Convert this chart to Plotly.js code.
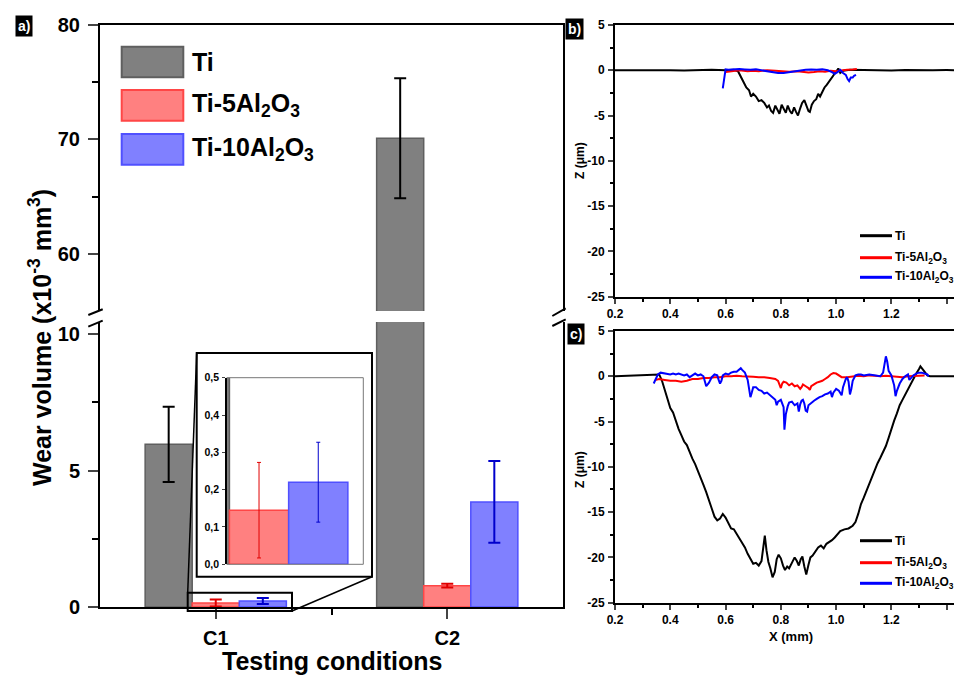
<!DOCTYPE html>
<html><head><meta charset="utf-8">
<script src="https://cdn.plot.ly/plotly-3.0.1.min.js"></script>
<style>html,body{margin:0;padding:0;background:#fff;overflow:hidden}</style>
</head><body><div id="chart" style="width:954px;height:675px"></div>
<script>
// ---------- data: panel a (wear volume, x10^-3 mm^3) ----------
const categories = ['C1', 'C2'];
const seriesNames = ['Ti', 'Ti-5Al<sub>2</sub>O<sub>3</sub>', 'Ti-10Al<sub>2</sub>O<sub>3</sub>'];
const tiWear = [5.96, 70.1];
const tiErr = [1.38, 5.25];
const al5Wear = [0.145, 0.78];
const al5Err = [0.128, 0.07];
const al10Wear = [0.22, 3.85];
const al10Err = [0.107, 1.5];
const insetTickVals = [0, 0.1, 0.2, 0.3, 0.4, 0.5];
const insetTickText = ['0,0', '0,1', '0,2', '0,3', '0,4', '0,5'];
const zTickVals = [5, 0, -5, -10, -15, -20, -25];
const zTickText = ['5', '0', '-5', '-10', '-15', '-20', '-25'];

// ---------- data: panel b (profiles, condition C1) ----------
const bTiX = [0.20,0.25,0.30,0.35,0.40,0.45,0.50,0.55,0.60,0.63,0.645,0.655,0.665,0.675,0.685,0.692,0.70,0.71,0.72,0.73,0.74,0.75,0.757,0.765,0.772,0.78,0.787,0.795,0.803,0.81,0.818,0.825,0.833,0.84,0.848,0.855,0.862,0.87,0.877,0.885,0.893,0.90,0.905,0.912,0.92,0.928,0.935,0.942,0.95,0.958,0.966,0.975,0.985,0.995,1.003,1.008,1.015,1.025,1.05,1.10,1.15,1.20,1.25,1.30,1.35,1.40,1.45,1.50];
const bTiZ = [0,0.02,-0.03,0.03,0,-0.02,0.03,0.05,0,0.05,-0.1,-0.8,-1.3,-1.9,-2.2,-2.9,-2.6,-2.9,-3.4,-3.3,-3.6,-4.1,-3.9,-4.5,-4.7,-3.9,-4.3,-4.8,-3.8,-4.3,-4.7,-3.9,-4.5,-4.8,-4.1,-4.6,-5.0,-4.2,-3.6,-3.3,-3.9,-4.5,-4.6,-3.8,-3.4,-3.2,-2.6,-2.9,-2.4,-1.9,-1.6,-1.2,-0.7,-0.3,0.05,0.2,-0.3,-0.05,0.05,0,0.03,-0.02,0.02,-0.03,0,0.02,0,0];
const bAl5X = [0.60,0.62,0.65,0.68,0.70,0.72,0.75,0.78,0.80,0.83,0.86,0.88,0.90,0.92,0.94,0.96,0.98,1.00,1.02,1.04,1.06,1.075];
const bAl5Z = [-0.2,-0.1,0,-0.1,-0.05,-0.1,0,-0.05,-0.1,-0.15,-0.1,-0.2,-0.25,-0.2,-0.1,-0.15,-0.05,-0.1,0,0.05,0.1,0.15];
const bAl10X = [0.59,0.593,0.597,0.60,0.61,0.63,0.65,0.67,0.69,0.71,0.73,0.75,0.77,0.79,0.81,0.83,0.85,0.87,0.89,0.91,0.93,0.95,0.97,0.985,0.995,1.005,1.015,1.025,1.035,1.042,1.047,1.053,1.06,1.065,1.072];
const bAl10Z = [-2.0,-1.2,-0.3,0.1,0.05,0.1,0.15,0.1,0.05,0.1,0,-0.1,-0.25,-0.3,-0.3,-0.2,-0.1,0,0.05,0.1,0.05,0.1,0,-0.2,-0.4,-0.2,0.05,-0.3,-0.5,-1.0,-1.2,-0.8,-0.8,-0.6,-0.5];

// ---------- data: panel c (profiles, condition C2) ----------
const cTiX = [0.20,0.25,0.30,0.34,0.36,0.37,0.38,0.39,0.40,0.41,0.42,0.43,0.44,0.45,0.46,0.47,0.48,0.49,0.50,0.51,0.52,0.53,0.54,0.55,0.56,0.57,0.58,0.59,0.60,0.61,0.62,0.63,0.64,0.65,0.66,0.67,0.68,0.69,0.70,0.71,0.72,0.73,0.735,0.742,0.748,0.755,0.762,0.77,0.778,0.785,0.792,0.80,0.808,0.815,0.823,0.83,0.84,0.85,0.858,0.865,0.872,0.878,0.885,0.892,0.90,0.907,0.915,0.925,0.935,0.945,0.955,0.965,0.975,0.985,0.995,1.005,1.015,1.03,1.045,1.06,1.07,1.08,1.09,1.10,1.11,1.12,1.13,1.14,1.15,1.16,1.17,1.18,1.19,1.20,1.21,1.22,1.23,1.24,1.25,1.26,1.27,1.28,1.29,1.30,1.305,1.31,1.32,1.33,1.34,1.40,1.45,1.50];
const cTiZ = [0,0.05,0.1,0.1,0.2,-0.5,-1.6,-2.7,-3.5,-4.0,-5.0,-5.8,-6.5,-7.2,-7.6,-8.4,-9.1,-9.7,-10.4,-11.2,-12.0,-12.8,-13.6,-14.6,-15.5,-15.9,-15.7,-15.2,-15.6,-16.2,-16.8,-16.9,-17.4,-17.8,-18.3,-18.9,-19.6,-20.2,-20.7,-20.6,-20.9,-20.4,-19.0,-17.6,-19.2,-20.5,-21.2,-22.2,-21.6,-20.2,-19.7,-20.1,-20.9,-21.4,-21.0,-21.2,-20.6,-20.0,-20.4,-20.9,-20.2,-19.9,-21.0,-21.9,-20.8,-20.0,-19.8,-19.3,-18.9,-18.7,-19.0,-18.5,-18.3,-18.1,-17.8,-17.4,-17.1,-16.9,-16.8,-16.5,-16.1,-15.2,-14.1,-13.4,-12.6,-11.9,-11.2,-10.3,-9.6,-9.0,-8.4,-7.7,-6.8,-5.8,-4.9,-4.1,-3.2,-2.6,-2.0,-1.5,-0.9,-0.3,0.3,0.8,1.1,0.9,0.5,0.1,0,0,0,0];
const cAl5X = [0.345,0.36,0.38,0.40,0.42,0.44,0.46,0.48,0.50,0.52,0.54,0.56,0.58,0.60,0.62,0.64,0.66,0.68,0.70,0.72,0.74,0.76,0.78,0.79,0.80,0.805,0.81,0.82,0.83,0.84,0.85,0.86,0.87,0.875,0.88,0.89,0.90,0.905,0.91,0.92,0.93,0.94,0.95,0.96,0.97,0.98,0.99,1.00,1.01,1.02,1.04,1.06,1.08,1.10,1.12,1.14,1.16,1.18,1.20,1.22,1.24,1.26,1.28,1.30,1.32];
const cAl5Z = [-0.4,-0.3,-0.4,-0.5,-0.5,-0.6,-0.5,-0.3,-0.3,-0.2,-0.2,-0.1,-0.1,0,0,0.05,0,0,-0.05,-0.1,-0.1,-0.2,-0.3,-0.5,-1.3,-0.8,-0.6,-0.7,-1.0,-0.8,-1.1,-1.0,-1.4,-1.2,-0.9,-1.1,-1.3,-1.5,-1.1,-0.9,-0.7,-0.6,-0.5,-0.3,-0.1,0.2,0.35,0.3,0.1,-0.1,-0.1,0,0.05,0,0.1,0.05,0,0.05,0,-0.05,-0.1,0,0.05,0.1,0.1];
const cAl10X = [0.34,0.345,0.355,0.365,0.375,0.39,0.40,0.41,0.42,0.43,0.44,0.45,0.46,0.47,0.48,0.49,0.50,0.51,0.52,0.525,0.53,0.54,0.55,0.56,0.57,0.575,0.58,0.585,0.59,0.60,0.61,0.62,0.63,0.64,0.65,0.655,0.66,0.67,0.68,0.685,0.69,0.695,0.70,0.71,0.72,0.73,0.74,0.75,0.76,0.77,0.78,0.785,0.79,0.80,0.805,0.81,0.813,0.818,0.825,0.83,0.84,0.85,0.86,0.865,0.87,0.875,0.88,0.885,0.89,0.895,0.90,0.91,0.92,0.93,0.94,0.95,0.96,0.97,0.98,0.985,0.99,1.00,1.01,1.02,1.025,1.035,1.04,1.045,1.05,1.055,1.06,1.07,1.08,1.09,1.10,1.12,1.14,1.16,1.17,1.175,1.18,1.185,1.19,1.20,1.205,1.21,1.215,1.22,1.23,1.24,1.25,1.26,1.265,1.27,1.28,1.29,1.30,1.31,1.32,1.33,1.335];
const cAl10Z = [-0.8,-0.4,0.2,0.4,0.35,0.3,0.2,0.3,0.2,0.3,0.2,0.1,0.2,-0.1,0.1,0.3,0.1,0.2,0,-0.5,-1.1,-0.7,-0.1,0.2,0.1,-0.4,-0.8,-0.5,0.1,0.3,0.2,0.4,0.5,0.5,0.8,0.9,0.7,0.4,-0.4,-1.2,-2.3,-1.8,-1.2,-1.2,-1.5,-1.6,-1.9,-1.8,-2.1,-2.3,-2.6,-3.2,-2.8,-2.6,-3.1,-3.4,-5.9,-4.2,-3.3,-2.9,-2.8,-3.2,-3.0,-3.9,-3.1,-2.7,-2.6,-3.0,-3.8,-3.9,-3.2,-2.9,-2.7,-2.5,-2.3,-2.2,-2.0,-1.9,-1.7,-2.3,-1.8,-1.4,-1.6,-2.1,-1.2,-0.3,-0.1,-0.6,-2.0,-1.4,-0.5,0.1,0.2,0.2,0.1,0.2,0.1,0,0.4,1.2,2.2,1.6,0.6,0.1,-0.4,-1.0,-2.2,-1.6,-0.8,-0.3,0,0.2,-0.4,-0.2,0.1,0.3,0.4,0.4,0.3,0.2,0];

// ---------- styling ----------
const FONT = 'Liberation Sans, Arial, sans-serif';
const W = 954, H = 675;
const px = v => v / W;            // pixel -> paper x
const py = v => 1 - v / H;        // pixel -> paper y
const fills = ['rgb(128,128,128)', 'rgb(255,128,128)', 'rgb(128,128,255)'];
const edges = ['rgb(95,95,95)', 'rgb(255,70,70)', 'rgb(80,80,255)'];
const errCols = ['#000000', '#e00000', '#0000cc'];
const lineCols = ['#000000', '#ff0000', '#0000ff'];
const xpos = categories.map((c, i) => i + 1);

const barSets = [[tiWear, tiErr], [al5Wear, al5Err], [al10Wear, al10Err]];
const traces = [];
[['x', 'y', 2, 6], ['x2', 'y2', 2, 6], ['x3', 'y3', 1, 2]].forEach(([xa, ya, th, cw]) => {
  barSets.forEach(([vals, errs], i) => {
    traces.push({
      type: 'bar', x: xpos, y: vals, xaxis: xa, yaxis: ya, name: seriesNames[i], showlegend: false,
      marker: {color: fills[i], line: {color: edges[i], width: 1.5}},
      error_y: {type: 'data', array: errs, visible: true, color: errCols[i], thickness: th, width: cw},
      hoverinfo: 'skip'
    });
  });
});
const prof = [
  ['x4', 'y4', [[bTiX, bTiZ], [bAl5X, bAl5Z], [bAl10X, bAl10Z]]],
  ['x5', 'y5', [[cTiX, cTiZ], [cAl5X, cAl5Z], [cAl10X, cAl10Z]]]
];
prof.forEach(([xa, ya, sets]) => {
  sets.forEach(([xs, zs], i) => {
    traces.push({type: 'scatter', mode: 'lines', x: xs, y: zs, xaxis: xa, yaxis: ya,
      name: seriesNames[i], showlegend: false, line: {color: lineCols[i], width: 2}, hoverinfo: 'skip'});
  });
});

const boldTick = s => ({family: FONT, size: s, color: '#000', weight: 'bold'});
const mainXDom = [px(100), px(563)];
const profXDom = [px(615), 1];

const layout = {
  width: W, height: H, autosize: false,
  margin: {l: 0, r: 0, t: 0, b: 0},
  paper_bgcolor: '#fff', plot_bgcolor: 'rgba(0,0,0,0)',
  barmode: 'group', bargap: 0.39, bargroupgap: 0,
  font: {family: FONT, color: '#000'},
  xaxis: {domain: mainXDom, anchor: 'y', range: [0.5, 2.5], tickvals: xpos, ticktext: categories,
    ticks: 'outside', ticklen: 10, tickwidth: 2, showline: true, linewidth: 2, linecolor: '#000',
    showgrid: false, zeroline: false, tickfont: boldTick(20), ticklabelstandoff: 2,
    minor: {tickvals: [1.5], ticks: 'outside', ticklen: 6, tickwidth: 2, tickcolor: '#000'}},
  yaxis: {domain: [py(607), py(322)], anchor: 'x', range: [0, 10.44], tick0: 0, dtick: 5,
    ticks: 'outside', ticklen: 10, tickwidth: 2, showline: true, linewidth: 2, linecolor: '#000', mirror: true,
    showgrid: false, zeroline: false, tickfont: boldTick(20), ticklabelstandoff: 4,
    minor: {dtick: 2.5, tick0: 0, ticks: 'outside', ticklen: 6, tickwidth: 2, tickcolor: '#000'}},
  xaxis2: {domain: mainXDom, anchor: 'y2', range: [0.5, 2.5], side: 'top', showticklabels: false,
    ticks: '', showline: true, linewidth: 2, linecolor: '#000', showgrid: false, zeroline: false},
  yaxis2: {domain: [py(311), py(25)], anchor: 'x2', range: [55, 80], tickvals: [60, 70, 80],
    ticks: 'outside', ticklen: 10, tickwidth: 2, showline: true, linewidth: 2, linecolor: '#000', mirror: true,
    showgrid: false, zeroline: false, tickfont: boldTick(20), ticklabelstandoff: 4,
    minor: {tickvals: [65, 75], ticks: 'outside', ticklen: 6, tickwidth: 2, tickcolor: '#000'}},
  xaxis3: {domain: [px(226.7), px(363.3)], anchor: 'y3', range: [0.889, 1.358], showticklabels: false,
    ticks: '', showline: false, showgrid: false, zeroline: false},
  yaxis3: {domain: [py(564.3), py(377.7)], anchor: 'x3', range: [0, 0.5], tickvals: insetTickVals, ticktext: insetTickText,
    ticks: 'outside', ticklen: 3, tickwidth: 1, showline: true, linewidth: 1.5, linecolor: '#000',
    showgrid: false, zeroline: false, tickfont: boldTick(10.5), ticklabelstandoff: 1},
  xaxis4: {domain: profXDom, anchor: 'y4', range: [0.2, 1.4265], tick0: 0.2, dtick: 0.2, tickformat: '.1f',
    ticks: 'outside', ticklen: 5, tickwidth: 2, showline: true, linewidth: 2, linecolor: '#000', mirror: true,
    showgrid: false, zeroline: false, tickfont: boldTick(12), ticklabelstandoff: 0,
    minor: {dtick: 0.1, tick0: 0.2, ticks: 'outside', ticklen: 3, tickwidth: 2, tickcolor: '#000'}},
  yaxis4: {domain: [py(296.7), py(25)], anchor: 'x4', range: [-25, 5], tickvals: zTickVals, ticktext: zTickText,
    ticks: 'outside', ticklen: 5, tickwidth: 2, showline: true, linewidth: 2, linecolor: '#000',
    showgrid: false, zeroline: false, tickfont: boldTick(12), ticklabelstandoff: 1,
    minor: {dtick: 2.5, tick0: 0, ticks: 'outside', ticklen: 3, tickwidth: 2, tickcolor: '#000'}},
  xaxis5: {domain: profXDom, anchor: 'y5', range: [0.2, 1.4265], tick0: 0.2, dtick: 0.2, tickformat: '.1f',
    ticks: 'outside', ticklen: 5, tickwidth: 2, showline: true, linewidth: 2, linecolor: '#000', mirror: true,
    showgrid: false, zeroline: false, tickfont: boldTick(12), ticklabelstandoff: 0,
    minor: {dtick: 0.1, tick0: 0.2, ticks: 'outside', ticklen: 3, tickwidth: 2, tickcolor: '#000'}},
  yaxis5: {domain: [py(602.7), py(331)], anchor: 'x5', range: [-25, 5], tickvals: zTickVals, ticktext: zTickText,
    ticks: 'outside', ticklen: 5, tickwidth: 2, showline: true, linewidth: 2, linecolor: '#000',
    showgrid: false, zeroline: false, tickfont: boldTick(12), ticklabelstandoff: 1,
    minor: {dtick: 2.5, tick0: 0, ticks: 'outside', ticklen: 3, tickwidth: 2, tickcolor: '#000'}},
  shapes: [],
  annotations: []
};

const S = layout.shapes, A = layout.annotations;
const pline = (x0, y0, x1, y1, w, col, layer) => S.push({type: 'line', xref: 'paper', yref: 'paper',
  x0: px(x0), y0: py(y0), x1: px(x1), y1: py(y1), line: {color: col || '#000', width: w || 2}, layer: layer || 'above'});
// inset outer box (white)
S.push({type: 'rect', xref: 'paper', yref: 'paper', x0: px(196.7), y0: py(576.7), x1: px(372), y1: py(353),
  line: {color: '#000', width: 2}, fillcolor: '#fff', layer: 'below'});
// inset inner frame (top, right, bottom)
S.push({type: 'path', xref: 'x3 domain', yref: 'y3 domain', path: 'M 0 1 L 1 1 L 1 0 L 0 0',
  line: {color: '#777', width: 1}, layer: 'above'});
// zoom rectangle around C1 small bars
S.push({type: 'rect', xref: 'paper', yref: 'paper', x0: px(187.7), y0: py(611), x1: px(292), y1: py(592.7),
  line: {color: '#000', width: 2}, fillcolor: 'rgba(0,0,0,0)', layer: 'above'});
pline(187.7, 592.7, 196.7, 353, 1.5);
pline(292, 611, 372, 576.7, 1.5);
// axis break marks
pline(88.3, 315, 102.7, 309.3, 2); pline(88.3, 326.7, 102.7, 320.7, 2);
pline(552.3, 316, 565.7, 308.3, 2); pline(552.3, 326, 565.7, 319.3, 2);
// panel a legend swatches
[[46.7, 77.3], [90, 120.7], [134, 164.7]].forEach(([t, b], i) => {
  S.push({type: 'rect', xref: 'paper', yref: 'paper', x0: px(121.7), x1: px(183.3), y0: py(b), y1: py(t),
    fillcolor: fills[i], line: {color: edges[i], width: 2}, layer: 'above'});
  A.push({xref: 'paper', yref: 'paper', x: px(190), y: py((t + b) / 2), xanchor: 'left', yanchor: 'middle',
    text: seriesNames[i], showarrow: false, font: {family: FONT, size: 25, weight: 'bold', color: '#000'}});
});
// panel b / c legends
[[235.7, 257.7, 277.3], [540.7, 562.7, 583.3]].forEach(ys => {
  ys.forEach((yy, i) => {
    pline(860, yy, 892, yy, 3, lineCols[i]);
    A.push({xref: 'paper', yref: 'paper', x: px(893), y: py(yy), xanchor: 'left', yanchor: 'middle',
      text: seriesNames[i], showarrow: false, font: {family: FONT, size: 12, weight: 'bold', color: '#000'}});
  });
});
// titles
A.push({xref: 'paper', yref: 'paper', x: px(40), y: py(338), text: 'Wear volume (x10<sup>-3</sup> mm<sup>3</sup>)',
  textangle: -90, showarrow: false, xanchor: 'center', yanchor: 'middle',
  font: {family: FONT, size: 25, weight: 'bold', color: '#000'}});
A.push({xref: 'paper', yref: 'paper', x: px(331.5), y: py(661), text: 'Testing conditions', showarrow: false,
  xanchor: 'center', yanchor: 'middle', font: {family: FONT, size: 25, weight: 'bold', color: '#000'}});
A.push({xref: 'paper', yref: 'paper', x: px(580), y: py(161), text: 'Z (μm)', textangle: -90, showarrow: false,
  xanchor: 'center', yanchor: 'middle', font: {family: FONT, size: 12, weight: 'bold', color: '#000'}});
A.push({xref: 'paper', yref: 'paper', x: px(580), y: py(470), text: 'Z (μm)', textangle: -90, showarrow: false,
  xanchor: 'center', yanchor: 'middle', font: {family: FONT, size: 12, weight: 'bold', color: '#000'}});
A.push({xref: 'paper', yref: 'paper', x: px(791), y: py(636), text: 'X (mm)', showarrow: false,
  xanchor: 'center', yanchor: 'middle', font: {family: FONT, size: 13, weight: 'bold', color: '#000'}});
// panel labels
[['a)', 24, 26], ['b)', 574, 29], ['c)', 576, 334]].forEach(([t, x, y]) => {
  A.push({xref: 'paper', yref: 'paper', x: px(x), y: py(y), text: t, showarrow: false, xanchor: 'center', yanchor: 'middle',
    bgcolor: '#000', borderpad: 2, font: {family: FONT, size: 14, weight: 'bold', color: '#fff'}});
});

Plotly.newPlot('chart', traces, layout, {staticPlot: true, displayModeBar: false});
</script></body></html>
